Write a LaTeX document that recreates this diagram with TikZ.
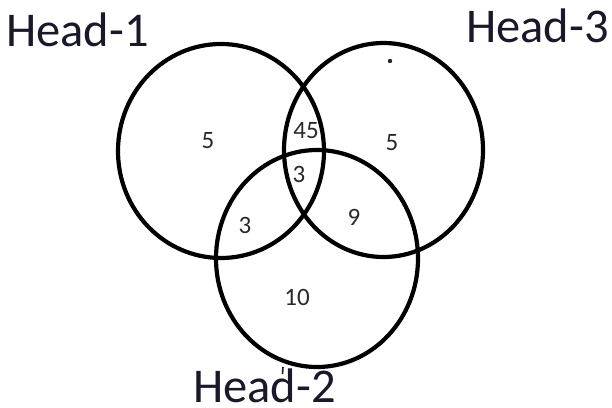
\documentclass[tikz,border=0pt]{standalone}
\usepackage{fontspec}
\setmainfont{Carlito}
\definecolor{inkhead}{rgb}{0.10,0.10,0.16}
\definecolor{inknum}{rgb}{0.16,0.16,0.16}
\begin{document}
\begin{tikzpicture}[x=1pt,y=-1pt,
  ring/.style={draw=black, line width=4.2pt},
  count/.style={font=\fontsize{25}{25}\selectfont, text=inknum, inner sep=0pt},
  headlabel/.style={font=\fontsize{48.5}{48.5}\selectfont, text=inkhead, inner sep=0pt, anchor=base west}]
\useasboundingbox[fill=white] (0,0) rectangle (612,407);

% the three sets
\draw[ring] (221,151) ellipse [x radius=103, y radius=107];
\draw[ring] (383.5,150) ellipse [x radius=99.5, y radius=107];
\draw[ring] (317,258.5) ellipse [x radius=101, y radius=108.5];

% set names
\node[headlabel] (h1) at (6,46) {Head-1};
\node[headlabel] (h3) at (466,42) {Head-3};
\node[headlabel] (h2) at (193,402) {Head-2};
\draw[inkhead, line width=1.6pt] (283,367) -- (282.5,374);

% region counts
\node[count] (only1) at (208,141) {5};
\node[count] (n13) at (306,131) {45};
\node[count] (n123) at (299,174) {3};
\node[count] (only3) at (392,143) {5};
\node[count] (n12) at (245,225) {3};
\node[count] (n23) at (354,217) {9};
\node[count] (only2) at (297,297) {10};

% small dot inside the third set
\fill[black!85] (390,61) circle [radius=2.2];
\end{tikzpicture}
\end{document}
